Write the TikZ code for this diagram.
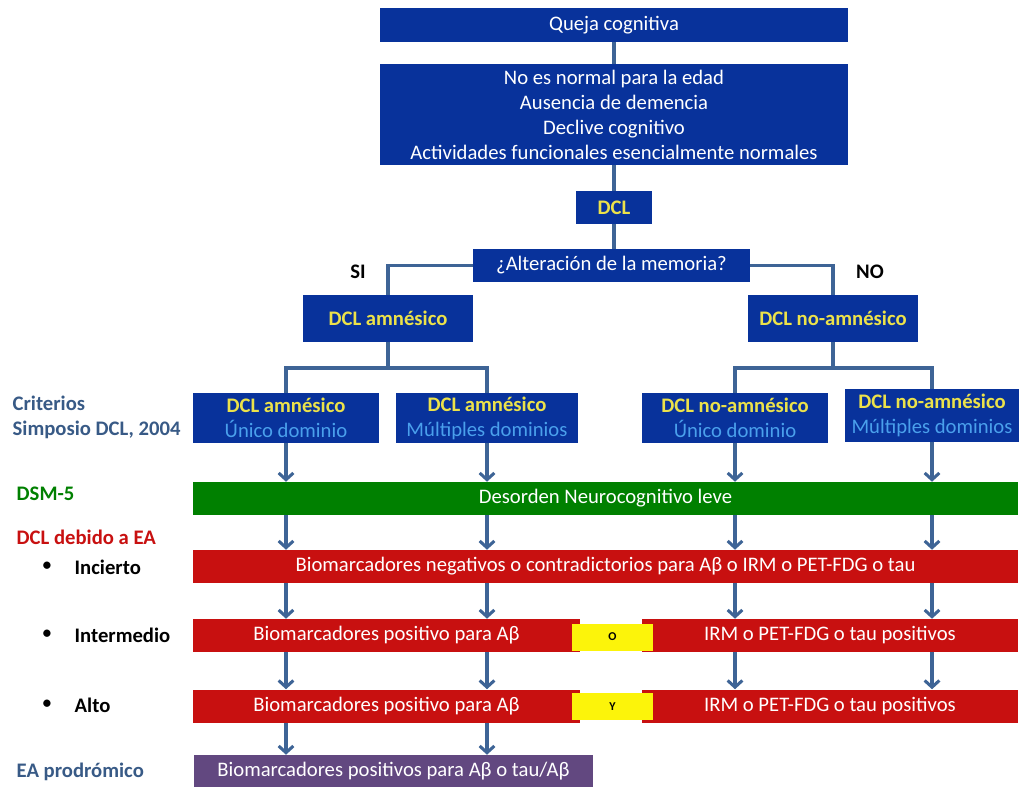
\documentclass[tikz,border=0pt]{standalone}
\usepackage{fontspec}
\setmainfont{Carlito}
\usetikzlibrary{arrows.meta}
\definecolor{azul}{RGB}{8,50,155}
\definecolor{amarillo}{RGB}{236,226,74}
\definecolor{celeste}{RGB}{74,160,236}
\definecolor{verde}{RGB}{0,128,0}
\definecolor{rojo}{RGB}{200,16,16}
\definecolor{morado}{RGB}{98,72,128}
\definecolor{trazo}{RGB}{62,100,150}
\definecolor{pizarra}{RGB}{56,90,134}
\definecolor{amarillobox}{RGB}{252,244,10}
\newdimen\pxl \pxl=0.75pt
\tikzset{
  caja/.style={fill=azul,text=white,inner sep=0pt,align=center,
               font=\fontsize{15.5}{18.75}\selectfont},
  titulo/.style={caja,font=\fontsize{15.5}{18.75}\selectfont\bfseries,text=amarillo},
  barra/.style={caja,minimum height=33\pxl},
  conj/.style={fill=amarillobox,inner sep=0pt,minimum width=81\pxl,minimum height=27\pxl,
               font=\fontsize{9}{10}\selectfont\bfseries},
  linea/.style={draw=trazo,line width=2.3pt},
  flecha/.style={linea,-{Straight Barb[length=5pt,width=11pt]}},
  etiq/.style={anchor=west,align=left,font=\fontsize{15.5}{18.75}\selectfont\bfseries},
}

\begin{document}
\begin{tikzpicture}[x=0.75pt,y=-0.75pt]
  \useasboundingbox (0,0) rectangle (1020,787);
  % parte superior
  \node[caja,minimum width=468\pxl,minimum height=34\pxl] (queja) at (614,25) {Queja cognitiva};
  \node[caja,minimum width=468\pxl,minimum height=101\pxl] (crit) at (614,114.5)
    {No es normal para la edad\\Ausencia de demencia\\Declive cognitivo\\Actividades funcionales esencialmente normales};
  \node[titulo,minimum width=76\pxl,minimum height=33\pxl] (dcl) at (614,207.5) {DCL};
  \node[caja,minimum width=277\pxl,minimum height=33\pxl] (alter) at (611.5,265.5) {¿Alteración de la memoria?};
  \node[titulo,minimum width=170\pxl,minimum height=47\pxl] (amn) at (388,318.5) {DCL amnésico};
  \node[titulo,minimum width=170\pxl,minimum height=47\pxl] (noamn) at (833,318.5) {DCL no-amnésico};
  \node[font=\fontsize{15.5}{18}\selectfont\bfseries] (si) at (358,272) {SI};
  \node[font=\fontsize{15.5}{18}\selectfont\bfseries] (no) at (870,272) {NO};
  % subtipos
  \node[caja,minimum width=186\pxl,minimum height=50\pxl] (amnU) at (286,418)
    {{\bfseries\color{amarillo}DCL amnésico}\\{\color{celeste}Único dominio}};
  \node[caja,minimum width=182\pxl,minimum height=50\pxl] (amnM) at (487,418)
    {{\bfseries\color{amarillo}DCL amnésico}\\{\color{celeste}Múltiples dominios}};
  \node[caja,minimum width=186\pxl,minimum height=50\pxl] (noU) at (735,418)
    {{\bfseries\color{amarillo}DCL no-amnésico}\\{\color{celeste}Único dominio}};
  \node[caja,minimum width=174\pxl,minimum height=53\pxl] (noM) at (932,415.5)
    {{\bfseries\color{amarillo}DCL no-amnésico}\\{\color{celeste}Múltiples dominios}};
  % barras
  \node[barra,fill=verde,minimum width=825\pxl] (dsm) at (605.5,498.5) {Desorden Neurocognitivo leve};
  \node[barra,fill=rojo,minimum width=825\pxl] (inc) at (605.5,566.5)
    {Biomarcadores negativos o contradictorios para Aβ o IRM o PET-FDG o tau};
  \node[barra,fill=rojo,minimum width=387\pxl] (intA) at (386.5,635.5) {Biomarcadores positivo para Aβ};
  \node[barra,fill=rojo,minimum width=376\pxl] (intB) at (830,635.5) {IRM o PET-FDG o tau positivos};
  \node[conj] (o) at (612.5,637) {O};
  \node[barra,fill=rojo,minimum width=387\pxl] (altA) at (386.5,706) {Biomarcadores positivo para Aβ};
  \node[barra,fill=rojo,minimum width=376\pxl] (altB) at (830,706) {IRM o PET-FDG o tau positivos};
  \node[conj] (y) at (612.5,706.5) {Y};
  \node[barra,fill=morado,minimum width=399\pxl,minimum height=32\pxl] (prod) at (393.5,771)
    {Biomarcadores positivos para Aβ o tau/Aβ};
  % etiquetas de la izquierda
  \node[etiq,text=pizarra] (lcrit) at (8,417.5) {Criterios\\Simposio DCL, 2004};
  \node[etiq,text=verde] (ldsm) at (12,494) {DSM-5};
  \node[etiq,text=rojo] (lea) at (12,537) {DCL debido a EA};
  \foreach \t/\yy [count=\i] in {Incierto/567,Intermedio/635,Alto/705}{
    \node[font=\fontsize{15.5}{18}\selectfont] (b\i) at (47,\yy) {\textbullet};
    \node[etiq] (n\i) at (70,\yy) {\t};}
  \node[etiq,text=pizarra] (lprod) at (12,772) {EA prodrómico};
  % conectores
  \draw[linea] (queja.south -| dcl) -- (crit.north -| dcl);
  \draw[linea] (crit.south -| dcl) -- (dcl.north);
  \draw[linea] (dcl.south) -- (dcl.south |- alter.north);
  \draw[linea] (alter.west) -| (amn.north);
  \draw[linea] (alter.east) -| (noamn.north);
  \coordinate (ra) at (388,368);
  \coordinate (rb) at (833,368);
  \draw[linea] (amn.south) -- (ra);
  \draw[linea] (amnU.north) |- (ra) -| (amnM.north);
  \draw[linea] (noamn.south) -- (rb);
  \draw[linea] (noU.north) |- (rb) -| (noM.north);
  \foreach \c in {amnU,amnM,noU,noM}{
    \draw[flecha] (\c.south) -- (\c.south |- dsm.north);
    \draw[flecha] (\c.south |- dsm.south) -- (\c.south |- inc.north);
    \draw[flecha] (\c.south |- inc.south) -- (\c.south |- intA.north);
    \draw[flecha] (\c.south |- intA.south) -- (\c.south |- altA.north);}
  \foreach \c in {amnU,amnM}
    \draw[flecha] (\c.south |- altA.south) -- (\c.south |- prod.north);
\end{tikzpicture}
\end{document}
